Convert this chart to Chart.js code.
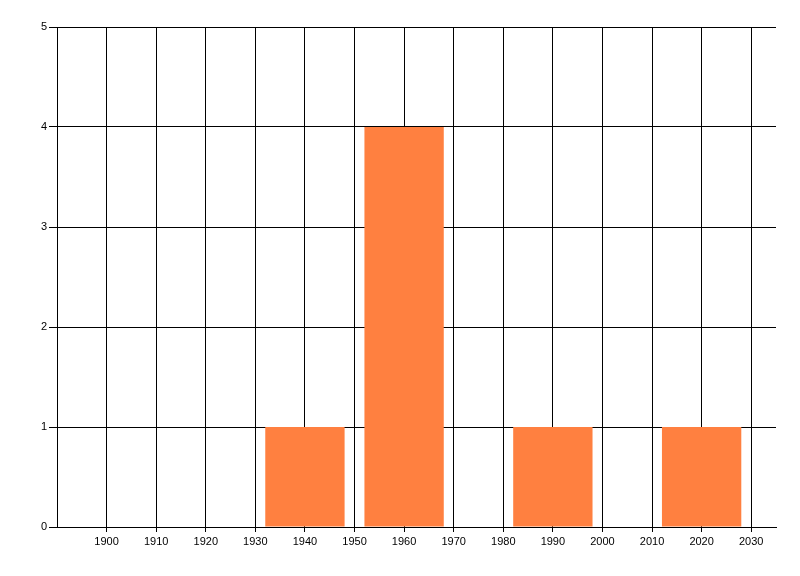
<!DOCTYPE html>
<html>
<head>
<meta charset="utf-8">
<script src="https://cdn.jsdelivr.net/npm/chart.js@4"></script>
<style>
    html, body { margin: 0; padding: 0; background: #fff; }
    #wrap { width: 800px; height: 576px; }
</style>
</head>
<body>
<div id="wrap"><canvas id="barChart" width="800" height="576"></canvas></div>
<script>
const years = [1940, 1960, 1990, 2020];
const counts = [1, 4, 1, 1];
const xTicks = [1900, 1910, 1920, 1930, 1940, 1950, 1960, 1970, 1980, 1990, 2000, 2010, 2020, 2030];
const yTicks = [0, 1, 2, 3, 4, 5];

document.addEventListener("DOMContentLoaded", function () {
    const ctx = document.getElementById("barChart").getContext("2d");

    new Chart(ctx, {
        type: "bar",
        data: {
            datasets: [{
                data: years.map((y, i) => ({ x: y, y: counts[i] })),
                backgroundColor: "#ff8040",
                borderWidth: 0,
                categoryPercentage: 1,
                barPercentage: 1.6
            }]
        },
        options: {
            responsive: false,
            animation: false,
            layout: { padding: { top: 27, right: 24, left: 0, bottom: 0 } },
            plugins: {
                legend: { display: false },
                tooltip: { enabled: false }
            },
            scales: {
                x: {
                    type: "linear",
                    min: 1890,
                    max: 2035,
                    offset: false,
                    afterBuildTicks: scale => {
                        scale.ticks = xTicks.map(v => ({ value: v }));
                    },
                    afterFit: scale => { scale.height = 49; },
                    grid: { color: "#000", tickLength: 5, lineWidth: 1, offset: false },
                    border: { color: "#000", width: 1 },
                    ticks: {
                        color: "#000",
                        padding: 3,
                        maxRotation: 0,
                        autoSkip: false,
                        font: { family: "Liberation Sans", size: 11 },
                        callback: v => String(v)
                    }
                },
                y: {
                    min: 0,
                    max: 5,
                    afterBuildTicks: scale => {
                        scale.ticks = yTicks.map(v => ({ value: v }));
                    },
                    afterFit: scale => { scale.width = 57; },
                    grid: { color: "#000", tickLength: 8, lineWidth: 1 },
                    border: { color: "#000", width: 1 },
                    ticks: {
                        color: "#000",
                        padding: 2,
                        font: { family: "Liberation Sans", size: 11 }
                    }
                }
            }
        }
    });
});
</script>
</body>
</html>
